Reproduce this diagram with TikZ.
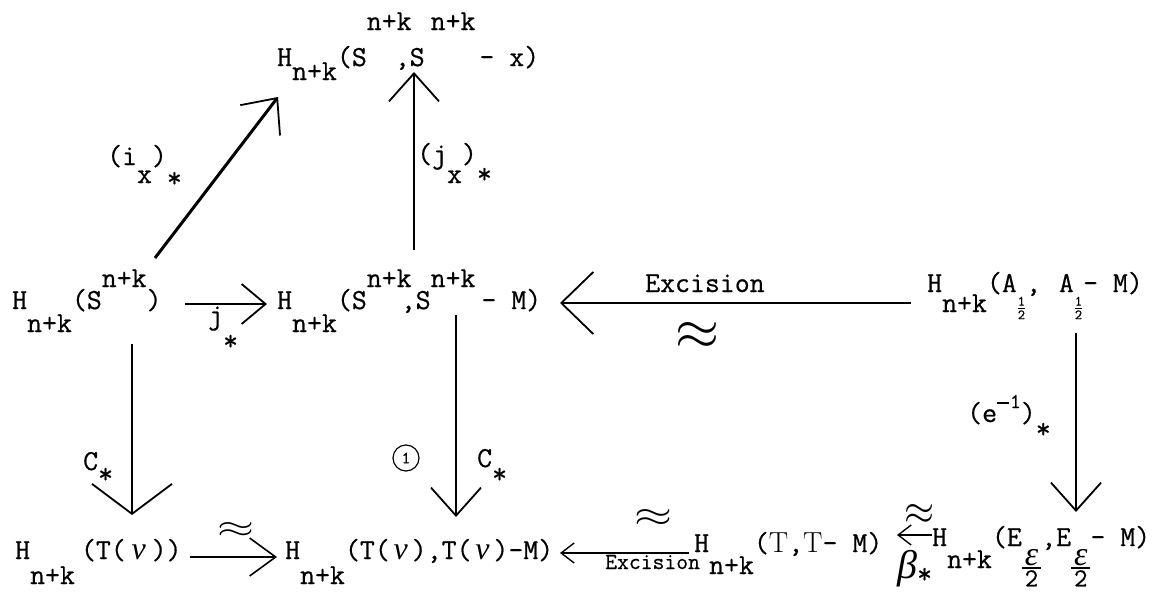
\documentclass[tikz,border=0pt]{standalone}
\usepackage{fontspec}
\usepackage{graphicx}
\usetikzlibrary{arrows.meta,calc}
\newfontfamily\tw{Latin Modern Mono}[FakeBold=0.6]
\newfontfamily\grk{Liberation Serif}
\newcommand{\tdn}[2][-20pt]{\raisebox{#1}{#2}}
\newcommand{\tup}[2][22pt]{\raisebox{#1}{#2}}
\newcommand{\tfr}[2]{\vtop{\offinterlineskip\halign{\hfil##\hfil\cr #1\cr\noalign{\kern2pt\hrule height 1.4pt\kern1.5pt}#2\cr}}}
\newcommand{\thalf}{\kern1pt\raisebox{-13.5pt}{\fontsize{14}{14}\selectfont\tfr{1}{2}}\kern1pt}
\newcommand{\teps}{\raisebox{-19pt}{\tfr{\kern3pt{\grk\itshape\fontsize{34}{34}\selectfont ε}\kern3pt}{\fontsize{26}{26}\selectfont 2}}}
\newcommand{\tnu}[1][26pt]{\makebox[#1]{\grk\itshape\fontsize{32}{32}\selectfont ν}}
\newcommand{\tT}{\textrm{T}}
\newcommand{\tast}[1][-13pt]{\raisebox{#1}{*}}
\begin{document}
\begin{tikzpicture}[x=1pt,y=-1pt,
  every node/.style={font=\fontsize{29}{32}\selectfont\tw, inner sep=0pt, anchor=base west},
  conn/.style={line width=2pt},
  bigtip/.style={-{Straight Barb[length=28pt,width=50pt,line width=1.8pt]}},
  widetip/.style={-{Straight Barb[length=30pt,width=80pt,line width=1.8pt]}},
  smalltip/.style={-{Straight Barb[length=26pt,width=38pt,line width=1.6pt]}},
  tinytip/.style={-{Straight Barb[length=13pt,width=20pt,line width=1.4pt]}},
  wave/.style={anchor=center}]
\useasboundingbox (0,0) rectangle (1175,595);

% objects
\node (T) at (277,66) {H\tdn[-14pt]{n+k}(S\rlap{\tup[36pt]{n+k}}\kern28pt,S\kern6pt\tup[36pt]{n+k}\kern4pt- x)};
\node (ML) at (12,309) {H\tdn[-23pt]{n+k}(S\tup{n+k})};
\node (MC) at (277,309) {H\tdn[-23pt]{n+k}(S\rlap{\tup{n+k}}\kern34pt,S\tup{n+k}\kern6pt- M)};
\node (A) at (927,292) {H\tdn{n+k}(A\thalf,\kern18pt A\thalf- M)};
\node (BL) at (15,559) {H\tdn[-25pt]{n+k}\kern6pt(T(\tnu))};
\node (BC) at (285,559) {H\tdn[-25pt]{n+k}(T(\tnu[22pt]),T(\tnu[22pt])-M)};
\node (BR1) at (694,552) {H\tdn[-22pt]{n+k}(\tT,\tT- M)};
\node (BR2) at (932,546) {H\tdn[-22pt]{n+k}(E\teps,E\teps- M)};

% connectors
\draw[conn,line width=3pt,bigtip] ($(ML.base west)+(143,-51)$) -- ($(T.base west)+(1,31)$);
\draw[conn,bigtip] ($(MC.base west)+(137,-59)$) -- ($(T.base west)+(137,6)$);
\draw[conn,-{Straight Barb[length=24pt,width=40pt,line width=1.8pt]}] ($(ML.base west)+(173,-5)$) -- ($(MC.base west)+(-10,-5)$);
\draw[conn,-{Straight Barb[length=32pt,width=62pt,line width=1.8pt]}] ($(A.base west)+(-16,11)$) -- ($(MC.base west)+(283,-6)$);
\draw[conn,widetip] ($(ML.base west)+(120,35)$) -- ($(BL.base west)+(117,-44)$);
\draw[conn,bigtip] ($(MC.base west)+(179,6)$) -- ($(BC.base west)+(171,-42)$);
\draw[conn,bigtip] ($(A.base west)+(149,41)$) -- ($(BR2.base west)+(144,-34)$);
\draw[conn,smalltip] ($(BL.base west)+(175,-2)$) -- ($(BC.base west)+(-8,-2)$);
\draw[conn,tinytip] ($(BR1.base west)+(-5,1)$) -- ($(BC.base west)+(275,-6)$);
\draw[conn,tinytip] ($(BR2.base west)+(0,-11)$) -- ($(BR1.base west)+(203,-17)$);

% labels
\node (ix) at (107,165) {(i\tdn[-18pt]{x})\tast[-22pt]};
\node (jx) at (417,163) {(j\tdn[-20pt]{x})\tast[-20pt]};
\node (js) at (208,324) {j\tast[-26pt]};
\node (c1) at (83,470) {C\tast[-13pt]};
\node (c2) at (477,467) {C\tast[-16pt]};
\node[circle,draw,line width=1.2pt,minimum size=26pt,anchor=center,font=\fontsize{17}{17}\selectfont\tw] (one) at (406,458) {1};
\node (e1) at (967,422) {(e\raisebox{18pt}{\rule{12pt}{1.8pt}}\kern1pt\tup[14pt]{\fontsize{21}{21}\selectfont 1})\tast[-16pt]};
\node (ex1) at (645,292) {Excision};
\node[wave] (ap1) at (697,336) {\resizebox{44pt}{27pt}{$\approx$}};
\node[wave] (ap2) at (236,530) {\resizebox{37pt}{15pt}{$\approx$}};
\node[wave] (ap3) at (653,518) {\resizebox{38pt}{17pt}{$\approx$}};
\node[font=\fontsize{23}{24}\selectfont\tw] (ex2) at (605,569) {Excision};
\node[wave] (ap4) at (919,514) {\resizebox{30pt}{20pt}{$\approx$}};
\node (beta) at (897,578) {{\grk\itshape\fontsize{40}{40}\selectfont β}\tast[-5pt]};
\end{tikzpicture}
\end{document}
